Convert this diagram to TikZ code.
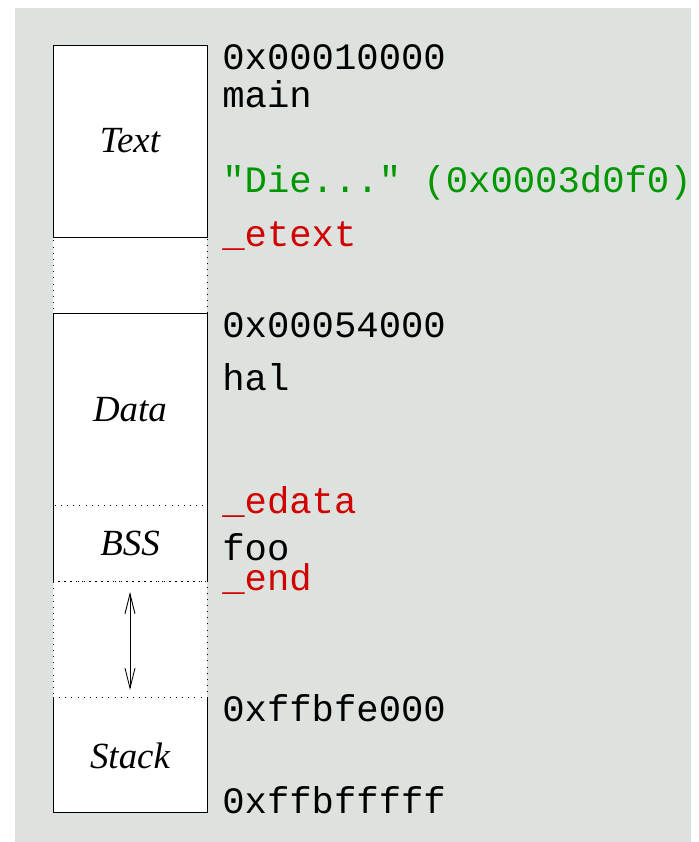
\documentclass[tikz,border=0pt]{standalone}
\usepackage{fontspec}
\setmainfont{Liberation Serif}
\newfontfamily\codefont{Liberation Mono}
\usetikzlibrary{arrows.meta, positioning}
\definecolor{mybg}{RGB}{222,226,222}
\definecolor{mygreen}{RGB}{0,150,0}
\definecolor{myred}{RGB}{208,0,0}

\begin{document}
\begin{tikzpicture}[x=0.02cm, y=-0.02cm,
    seg/.style={rectangle, fill=white, line width=0.5pt, minimum width=3.08cm, inner sep=0pt, outer sep=0pt, font=\fontsize{21}{25}\selectfont\itshape},
    dots/.style={draw, line width=0.5pt, dash pattern=on 0.5pt off 3pt},
    lbl/.style={anchor=base west, inner sep=0pt, font=\fontsize{21.2}{25}\selectfont\codefont},
    barb/.tip={Straight Barb[length=0.4cm, width=0.2cm]}]
    \useasboundingbox (0,0) rectangle (699,842);
    \fill[mybg] (15,8) rectangle (691,842);

    % Segmente
    \node[seg, draw, minimum height=3.84cm] (text) at (130,141) {Text};
    \node[seg, dots, minimum height=1.52cm, below=0pt of text] (gapone) {};
    \node[seg, minimum height=3.86cm, below=0pt of gapone] (data) {Data};
    \node[seg, dots, minimum height=1.52cm, below=0pt of data] (bss) {BSS};
    \node[seg, dots, minimum height=2.32cm, below=0pt of bss] (gaptwo) {};
    \node[seg, minimum height=2.3cm, below=0pt of gaptwo] (stack) {Stack};

    \draw[line width=0.5pt] (text.south west) -- (text.south east);
    \draw[line width=0.5pt] (bss.south west) |- (data.north east) -- (bss.south east);
    \draw[line width=0.5pt] (stack.north west) |- (stack.south east) -- (stack.north east);

    \draw[line width=0.5pt, barb-barb, shorten <=0.2cm, shorten >=0.16cm] (gaptwo.north) -- (gaptwo.south);

    % Adressen und Symbole
    \node[lbl] (atext) at (222,69) {0x00010000};
    \node[lbl] (main) at (222,107) {main};
    \node[lbl, text=mygreen] (die) at (222,192) {"Die..." (0x0003d0f0)};
    \node[lbl, text=myred] (etext) at (222,246) {\_etext};
    \node[lbl] (adata) at (222,337) {0x00054000};
    \node[lbl] (hal) at (222,390) {hal};
    \node[lbl, text=myred] (edata) at (222,513) {\_edata};
    \node[lbl] (foo) at (222,560) {foo};
    \node[lbl, text=myred] (end) at (222,590) {\_end};
    \node[lbl] (astack) at (222,721) {0xffbfe000};
    \node[lbl] (atop) at (222,813) {0xffbfffff};
\end{tikzpicture}
\end{document}
